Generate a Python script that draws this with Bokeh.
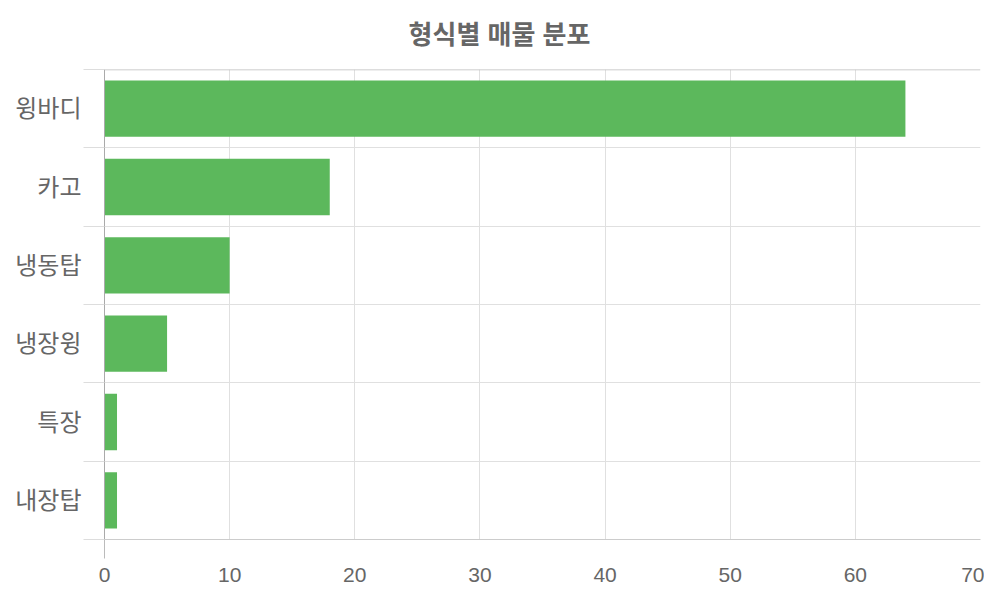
from bokeh.plotting import figure
from bokeh.models import Range1d, FixedTicker, Span, ColumnDataSource, Label
from bokeh.embed import file_html
from bokeh.resources import INLINE

title_text = "형식별 매물 분포"
categories = ["윙바디", "카고", "냉동탑", "냉장윙", "특장", "내장탑"]
counts = [64, 18, 10, 5, 1, 1]
x_ticks = [0, 10, 20, 30, 40, 50, 60, 70]

n = len(categories)
# top category at the top of the chart
ypos = [n - i - 0.5 for i in range(n)]
src = ColumnDataSource(dict(y=ypos, v=counts, cat=categories))

FONT = "Liberation Sans, Noto Sans CJK KR"

p = figure(width=984, height=584, output_backend="svg", toolbar_location=None,
           x_range=Range1d(0, 70), y_range=Range1d(0, n))
p.min_border_left = 104
p.min_border_right = 4
p.min_border_top = 69
p.min_border_bottom = 45
p.outline_line_color = None
p.background_fill_color = "white"
p.border_fill_color = "white"

# chart title, centred on the whole canvas
p.add_layout(Label(x=395, y=35, x_units="screen", y_units="screen",
                   text=title_text, text_font=FONT, text_font_size="26px",
                   text_font_style="bold", text_color="#666666",
                   text_align="center", text_baseline="middle"), "above")

p.hbar(y="y", right="v", left=0, height=0.72, source=src,
       fill_color="#5cb85c", line_color=None)

# x axis
xa = p.xaxis[0]
xa.ticker = FixedTicker(ticks=x_ticks, minor_ticks=[0])
xa.major_tick_out = 0
xa.major_tick_in = 0
xa.minor_tick_out = 19
xa.minor_tick_in = 0
xa.minor_tick_line_color = "#bbbbbb"
xa.axis_line_color = "#cccccc"
xa.major_label_text_font = FONT
xa.major_label_text_font_size = "21px"
xa.major_label_text_color = "#666666"
xa.major_label_standoff = 9

# y axis
ya = p.yaxis[0]
ya.ticker = FixedTicker(ticks=ypos, minor_ticks=list(range(n + 1)))
ya.major_label_overrides = {y: c for y, c in zip(ypos, categories)}
ya.major_tick_out = 0
ya.major_tick_in = 0
ya.minor_tick_out = 21
ya.minor_tick_in = 0
ya.minor_tick_line_color = "#dddddd"
ya.axis_line_color = "#aaaaaa"
ya.major_label_text_font = FONT
ya.major_label_text_font_size = "24px"
ya.major_label_text_color = "#666666"
ya.major_label_standoff = 2

p.xgrid.ticker = FixedTicker(ticks=x_ticks)
p.xgrid.grid_line_color = "#e0e0e0"
p.ygrid.ticker = FixedTicker(ticks=list(range(n + 1)))
p.ygrid.grid_line_color = "#e0e0e0"

p.add_layout(Span(location=n, dimension="width", line_color="#bbbbbb", line_width=1.5))

open("out.html", "w").write(file_html(p, INLINE))
